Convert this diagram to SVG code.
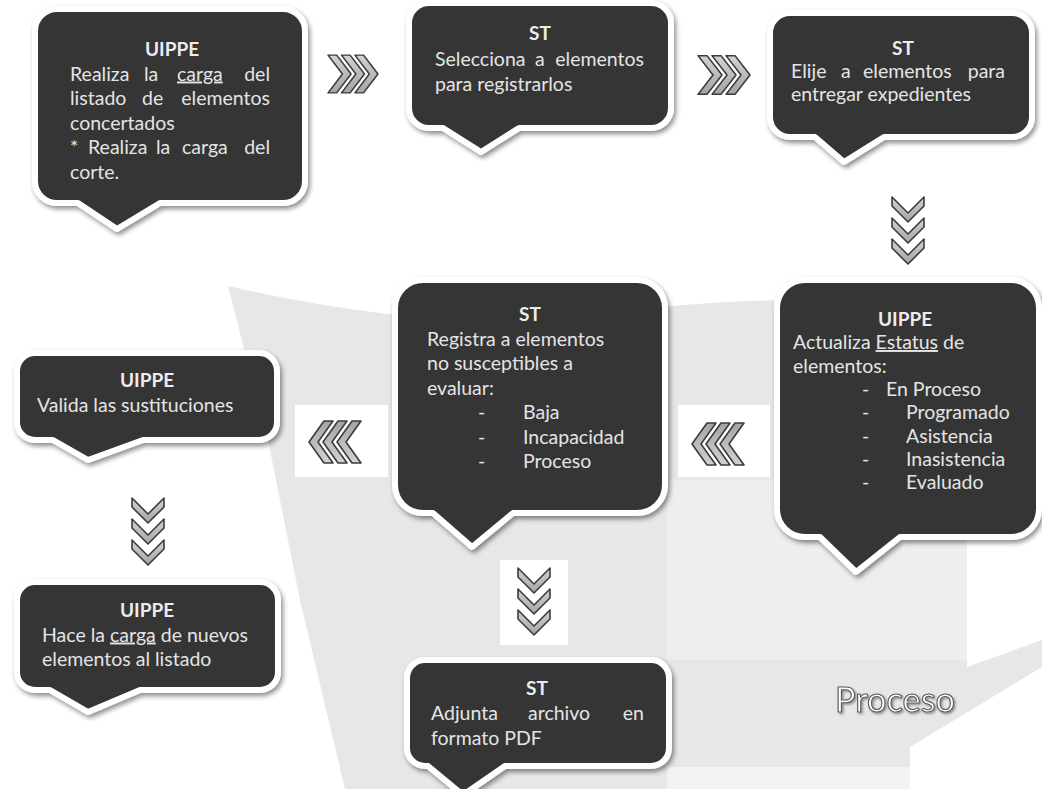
<svg xmlns="http://www.w3.org/2000/svg" xmlns:xlink="http://www.w3.org/1999/xlink" width="1042" height="789" viewBox="0 0 1042 789">
<defs>
<style>
.box{fill:#363636;stroke:#ffffff;stroke-width:6;stroke-linejoin:round;filter:url(#sh)}
.t{font-family:Lato,"Liberation Sans",sans-serif;font-size:19.5px;fill:#e4e4e4}
.tb{font-family:Lato,"Liberation Sans",sans-serif;font-size:19px;font-weight:bold;fill:#ececec;text-anchor:middle}
.e{text-anchor:end}
.u{text-decoration:underline}
.ch polygon{fill:url(#cg);stroke:#3c3c3c;stroke-width:1.6;stroke-linejoin:round}
.proc{font-family:Lato,"Liberation Sans",sans-serif;font-size:34px;fill:#ffffff;stroke:#5a5a5a;stroke-width:1.1;filter:url(#tsh)}
</style>
<filter id="sh" x="-10%" y="-10%" width="125%" height="130%">
<feDropShadow dx="2" dy="3" stdDeviation="2.5" flood-color="#000000" flood-opacity="0.45"/>
</filter>
<filter id="tsh" x="-10%" y="-20%" width="130%" height="150%">
<feDropShadow dx="1.5" dy="1.5" stdDeviation="1" flood-color="#000000" flood-opacity="0.4"/>
</filter>
<linearGradient id="cg" x1="0" y1="0" x2="0" y2="1">
<stop offset="0" stop-color="#d2d2d2"/>
<stop offset="1" stop-color="#a4a4a4"/>
</linearGradient>
<g id="chR" class="ch">
<polygon points="-26,-21 -17,-21 -2,0 -17,21 -26,21 -11,0"/>
<polygon points="-12,-21 -3,-21 12,0 -3,21 -12,21 3,0"/>
<polygon points="2,-21 11,-21 26,0 11,21 2,21 17,0"/>
</g>
<g id="chD" class="ch">
<polygon points="-16,-33 0,-17 16,-33 16,-24 0,-8 -16,-24"/>
<polygon points="-16,-12 0,4 16,-12 16,-3 0,13 -16,-3"/>
<polygon points="-16,9 0,25 16,9 16,18 0,34 -16,18"/>
</g>
</defs>

<rect x="0" y="0" width="1042" height="789" fill="#ffffff"/>

<g id="background">
<path fill="#e7e7e7" d="M228,286 Q420,330 560,318 Q700,300 800,300 L1042,300 L1042,480 L967,480 L967,667 L1042,640 L1042,789 L345,789 L300,600 L270,450 Z"/>
<polygon fill="#eeeeee" points="667,480 967,480 967,660 667,660"/>
<polygon fill="#f3f3f3" points="667,767 910,767 910,789 667,789"/>
<polygon fill="#ffffff" points="910,747 1042,667 1042,789 910,789"/>
<rect x="295" y="405" width="93" height="72" fill="#ffffff"/>
<rect x="678" y="405" width="92" height="72" fill="#ffffff"/>
<rect x="500" y="560" width="68" height="85" fill="#ffffff"/>
</g>

<g id="connectors">
<use xlink:href="#chR" transform="translate(353,74) scale(0.96,0.9)"/>
<use xlink:href="#chR" transform="translate(724,75) scale(1,0.92)"/>
<use xlink:href="#chD" transform="translate(908,230)"/>
<use xlink:href="#chR" transform="translate(718,444) rotate(180)"/>
<use xlink:href="#chR" transform="translate(335,442) rotate(180)"/>
<use xlink:href="#chD" transform="translate(148,531)"/>
<use xlink:href="#chD" transform="translate(534,601)"/>
</g>

<g id="n1">
<path class="box" d="M57,9 H283 A22 22 0 0 1 305,31 V181 A22 22 0 0 1 283,203 H160 L117,229 L78,203 H57 A22 22 0 0 1 35,181 V31 A22 22 0 0 1 57,9 Z"/>
<text class="tb" x="172" y="56">UIPPE</text>
<text class="t" y="80.5"><tspan x="70">Realiza</tspan><tspan x="144">la</tspan><tspan x="177" class="u">carga</tspan><tspan x="270" class="e">del</tspan></text>
<text class="t" y="105"><tspan x="70">listado</tspan><tspan x="142">de</tspan><tspan x="270" class="e">elementos</tspan></text>
<text class="t" x="70" y="129.5">concertados</text>
<text class="t" y="154"><tspan x="70">*</tspan><tspan x="88">Realiza</tspan><tspan x="156">la</tspan><tspan x="182">carga</tspan><tspan x="270" class="e">del</tspan></text>
<text class="t" x="70" y="178.5">corte.</text>
</g>

<g id="n2">
<path class="box" d="M429,3 H651 A20 20 0 0 1 671,23 V108 A20 20 0 0 1 651,128 H519 L481,152 L443,128 H429 A20 20 0 0 1 409,108 V23 A20 20 0 0 1 429,3 Z"/>
<text class="tb" x="540" y="40">ST</text>
<text class="t" y="66"><tspan x="435">Selecciona</tspan><tspan x="535">a</tspan><tspan x="644" class="e">elementos</tspan></text>
<text class="t" x="435" y="91">para registrarlos</text>
</g>

<g id="n3">
<path class="box" d="M790,13 H1012 A20 20 0 0 1 1032,33 V117 A20 20 0 0 1 1012,137 H884 L844,162 L815,137 H790 A20 20 0 0 1 770,117 V33 A20 20 0 0 1 790,13 Z"/>
<text class="tb" x="903" y="55">ST</text>
<text class="t" y="78"><tspan x="791">Elije</tspan><tspan x="841">a</tspan><tspan x="863">elementos</tspan><tspan x="1005" class="e">para</tspan></text>
<text class="t" x="791" y="101">entregar expedientes</text>
</g>

<g id="n4">
<path class="box" d="M805,280 H1011 A28 28 0 0 1 1039,308 V509 A28 28 0 0 1 1011,537 H900 L856,572 L820,537 H805 A28 28 0 0 1 777,509 V308 A28 28 0 0 1 805,280 Z"/>
<text class="tb" x="905" y="326">UIPPE</text>
<text class="t" x="793" y="349">Actualiza <tspan class="u">Estatus</tspan> de</text>
<text class="t" x="793" y="372.5">elementos:</text>
<text class="t" y="396"><tspan x="862">-</tspan><tspan x="886">En Proceso</tspan></text>
<text class="t" y="419"><tspan x="862">-</tspan><tspan x="906">Programado</tspan></text>
<text class="t" y="442.5"><tspan x="862">-</tspan><tspan x="906">Asistencia</tspan></text>
<text class="t" y="466"><tspan x="862">-</tspan><tspan x="906">Inasistencia</tspan></text>
<text class="t" y="489"><tspan x="862">-</tspan><tspan x="906">Evaluado</tspan></text>
</g>

<g id="n5">
<path class="box" d="M423,280 H637 A28 28 0 0 1 665,308 V485 A28 28 0 0 1 637,513 H513 L472,547 L433,513 H423 A28 28 0 0 1 395,485 V308 A28 28 0 0 1 423,280 Z"/>
<text class="tb" x="530" y="321">ST</text>
<text class="t" x="427" y="345.5">Registra a elementos</text>
<text class="t" x="427" y="370">no susceptibles a</text>
<text class="t" x="427" y="394.5">evaluar:</text>
<text class="t" y="419"><tspan x="478">-</tspan><tspan x="523">Baja</tspan></text>
<text class="t" y="443.5"><tspan x="478">-</tspan><tspan x="523">Incapacidad</tspan></text>
<text class="t" y="468"><tspan x="478">-</tspan><tspan x="523">Proceso</tspan></text>
</g>

<g id="n6">
<path class="box" d="M35,353 H259 A18 18 0 0 1 277,371 V422 A18 18 0 0 1 259,440 H143 L88,460 L53,440 H35 A18 18 0 0 1 17,422 V371 A18 18 0 0 1 35,353 Z"/>
<text class="tb" x="147" y="387">UIPPE</text>
<text class="t" x="37" y="412">Valida las sustituciones</text>
</g>

<g id="n7">
<path class="box" d="M35,582 H260 A18 18 0 0 1 278,600 V672 A18 18 0 0 1 260,690 H140 L88,712 L50,690 H35 A18 18 0 0 1 17,672 V600 A18 18 0 0 1 35,582 Z"/>
<text class="tb" x="147" y="617">UIPPE</text>
<text class="t" x="42" y="641.5">Hace la <tspan class="u">carga</tspan> de nuevos</text>
<text class="t" x="42" y="666">elementos al listado</text>
</g>

<g id="n8">
<path class="box" d="M425,660 H651 A18 18 0 0 1 669,678 V748 A18 18 0 0 1 651,766 H505 L463,795 L428,766 H425 A18 18 0 0 1 407,748 V678 A18 18 0 0 1 425,660 Z"/>
<text class="tb" x="537" y="695">ST</text>
<text class="t" y="720"><tspan x="431">Adjunta</tspan><tspan x="528">archivo</tspan><tspan x="644" class="e">en</tspan></text>
<text class="t" x="431" y="745">formato PDF</text>
</g>

<g id="title">
<text class="proc" x="835" y="712" textLength="120" lengthAdjust="spacingAndGlyphs">Proceso</text>
</g>
</svg>
